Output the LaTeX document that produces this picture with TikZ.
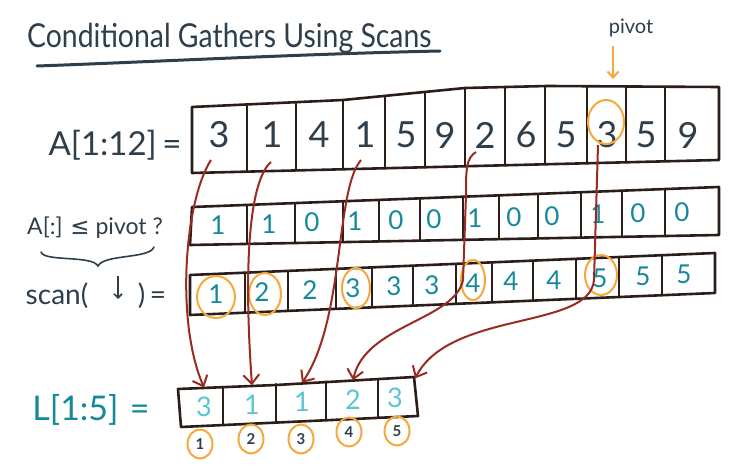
\documentclass[tikz,border=0pt]{standalone}
\usepackage{fontspec}
\setmainfont{Lato}
\newfontfamily\titlefont[FakeStretch=0.86]{Lato}
\newfontfamily\symfont{DejaVu Sans}
\usetikzlibrary{arrows.meta,shapes.geometric}
\definecolor{inkc}{HTML}{2F3E4B}
\definecolor{tealc}{HTML}{15899A}
\definecolor{lcyan}{HTML}{5CC6D0}
\definecolor{orng}{HTML}{F6A93B}
\definecolor{redar}{HTML}{992B24}
\definecolor{brd}{HTML}{2B1D18}
\tikzset{
  frame/.style={draw=brd, line width=2.6pt, line join=round, line cap=round},
  divider/.style={draw=brd, line width=2.2pt, line cap=round},
  adig/.style={text=inkc, font=\fontsize{36}{40}\selectfont, inner sep=0pt},
  cdig/.style={text=tealc, font=\fontsize{26}{30}\selectfont, inner sep=0pt},
  ldig/.style={text=lcyan, font=\fontsize{27}{30}\selectfont, minimum height=38pt, minimum width=40pt, inner sep=0pt},
  ring/.style={draw=orng, line width=2pt},
  gather/.style={draw=redar, line width=2pt, -{Straight Barb[length=9pt,width=16pt]}},
  idx/.style={text=inkc, font=\bfseries\fontsize{15}{17}\selectfont, draw=orng, line width=2pt, ellipse, minimum width=25pt, minimum height=29pt, inner sep=0pt},
  lab/.style={text=inkc, inner sep=0pt}
}
\begin{document}
\begin{tikzpicture}[x=1pt,y=-1pt]
\useasboundingbox[fill=white] (0,0) rectangle (749,470);

% title
\node[lab, anchor=base west, font=\titlefont\fontsize{33}{36}\selectfont] (title) at (27,48) {Conditional Gathers Using Scans};
\draw[inkc, line width=3pt, line cap=round] (37,66) .. controls (150,62) and (300,54) .. (440,51);

% pivot
\node[lab, font=\fontsize{20}{24}\selectfont] (pivot) at (631,28) {pivot};
\coordinate (pivtip) at (613,79);
\draw[orng, line width=2pt, -{Straight Barb[length=6pt,width=11pt]}] (613,46) -- (pivtip);

% ---------- array A ----------
\draw[frame] (192,107) -- (343,100) -- (465,88) -- (547,86) -- (719,87) -- (719,160) -- (192,173) -- cycle;
\foreach \x/\t in {247/104.5,296/102.2,343/100,385/95.9,425/91.9,465/88,505/87,545/86,587/86.2,626/86.5,665/86.7}{
  \pgfmathsetmacro\b{173-13*(\x-192)/527}
  \draw[divider] (\x,\t) -- (\x,\b);
}
\foreach \x/\v [count=\i] in {219/3,272/1,319/4,365/1,406/5,445/9,485/2,526/6,566/5,607/3,646/5,688/9}{
  \node[adig] (A\i) at (\x,135) {\v};
}
\draw[ring] (606,122) ellipse [x radius=18, y radius=22];
\node[lab, font=\fontsize{33}{36}\selectfont] (Alab) at (115,145) {A[1:12]\,=};

% ---------- condition array ----------
\draw[frame] (192,207) -- (719,187) -- (719,235) -- (190,245) -- cycle;
\foreach \x in {247,295,343,379,420,463,499,538,581,622,665}{
  \pgfmathsetmacro\t{207-20*(\x-192)/527}
  \pgfmathsetmacro\b{245-10*(\x-192)/527}
  \draw[divider] (\x,\t) -- (\x,\b);
}
\foreach \x/\v [count=\i] in {218/1,269/1,312/0,355/1,396/0,434/0,475/1,514/0,552/0,598/1,638/0,682/0}{
  \pgfmathsetmacro\yy{226-15*(\x-192)/527}
  \node[cdig] (C\i) at (\x,\yy) {\v};
}
\node[lab, font=\fontsize{23}{26}\selectfont] (Clab) at (95,228) {A[:] {\symfont ≤} pivot ?};
\draw[inkc, line width=1.6pt, line cap=round] (41,252) .. controls (44,262) and (92,255) .. (98,266) .. controls (104,254) and (150,259) .. (154,247);

% ---------- scan array ----------
\draw[frame] (190,275) -- (715,253) -- (715,293) -- (190,315) -- cycle;
\foreach \x in {245,288,336,372,413,456,492,533,576,619,662}{
  \pgfmathsetmacro\t{275-22*(\x-190)/525}
  \pgfmathsetmacro\b{315-22*(\x-190)/525}
  \draw[divider] (\x,\t) -- (\x,\b);
}
\foreach \x/\v [count=\i] in {216/1,262/2,310/2,353/3,394/3,432/3,473/4,511/4,554/4,600/5,643/5,684/5}{
  \pgfmathsetmacro\yy{295-22*(\x-190)/525}
  \node[cdig] (S\i) at (\x,\yy) {\v};
}
\draw[ring] (216,297) ellipse [x radius=19, y radius=21];
\draw[ring] (265,294) ellipse [x radius=16, y radius=21];
\draw[ring] (356,288) ellipse [x radius=14, y radius=20];
\draw[ring] (473,280) ellipse [x radius=12, y radius=20];
\draw[ring] (601,275) ellipse [x radius=16, y radius=20];
\node[lab, font=\fontsize{28}{32}\selectfont] (scanl) at (57,296) {scan(};
\node[lab, font=\fontsize{28}{32}\selectfont] (scanr) at (152,296) {)\,=};
\coordinate (downtip) at (118,299);
\draw[inkc, line width=1.6pt, -{Straight Barb[length=4pt,width=8pt]}] (118,276) -- (downtip);

% ---------- L array ----------
\draw[frame] (178,389) -- (276,385) -- (414,377) -- (418,416) -- (181,427) -- cycle;
\foreach \x in {223,276,326,378}{
  \pgfmathsetmacro\t{389-12*(\x-178)/236}
  \pgfmathsetmacro\b{427-11*(\x-178)/240}
  \draw[divider] (\x,\t) -- (\x,\b);
}
\foreach \x/\v [count=\i] in {204/3,252/1,302/1,353/2,395/3}{
  \pgfmathsetmacro\yy{(389-12*(\x-178)/236+427-11*(\x-178)/240)/2}
  \node[ldig] (L\i) at (\x,\yy) {\v};
}
\node[lab, text=tealc, font=\fontsize{34}{38}\selectfont] (Llab) at (91,410) {L[1:5]\,\,=};

\foreach \x/\y [count=\i] in {200/444,251/439,301/439,349/432,397/431}{
  \node[idx] (I\i) at (\x,\y) {\i};
}

% ---------- gather arrows ----------
\draw[gather] ([shift={(-8,25)}]A1.center) .. controls (185,200) and (175,320) .. (L1.north);
\draw[gather] ([shift={(-1,27)}]A2.center) .. controls (250,180) and (243,260) .. (L2.north);
\draw[gather] ([shift={(-4,25)}]A4.center) .. controls (335,190) and (345,320) .. (L3.north);
\draw[gather] ([shift={(-9,17)}]A7.center) .. controls (466,158) and (466,170) .. (466,195) -- (463,280) .. controls (455,320) and (365,325) .. (L4.north);
\draw[gather] ([shift={(-9,10)}]A10.center) -- (594,280) .. controls (590,330) and (450,310) .. (L5.north east);
\end{tikzpicture}
\end{document}
